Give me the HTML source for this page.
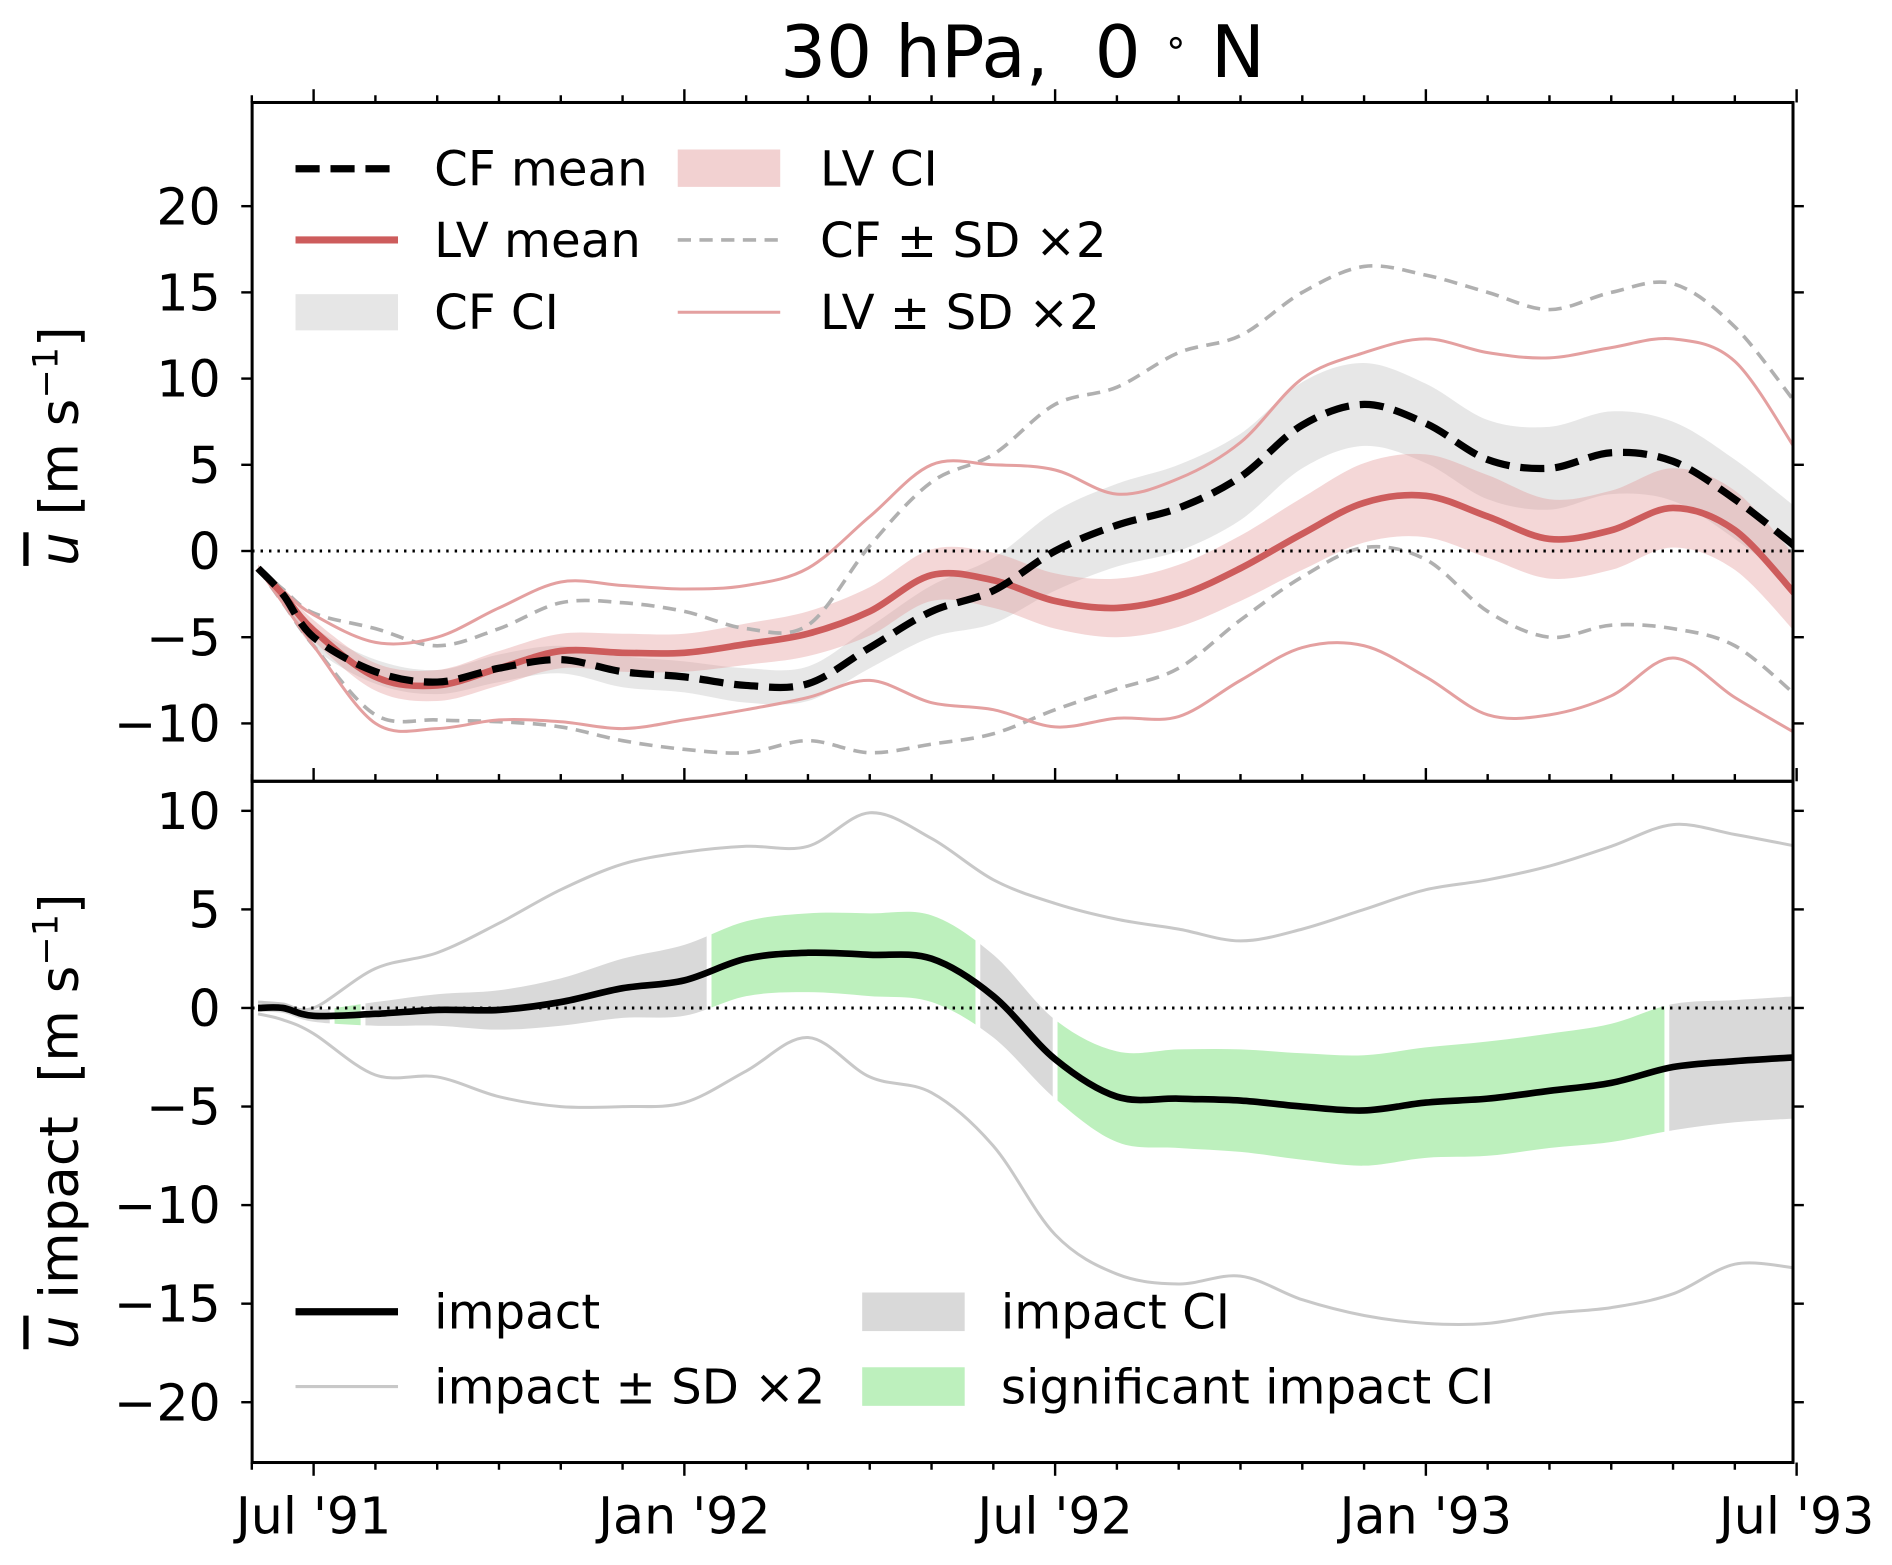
<!DOCTYPE html>
<html><head><meta charset="utf-8"><style>
html,body{margin:0;padding:0;background:#fff;}
svg{display:block;font-family:"DejaVu Sans","Liberation Sans",sans-serif;}
</style></head><body>
<svg id="chart" width="1892" height="1565" viewBox="0 0 1569 1298" xmlns="http://www.w3.org/2000/svg">
<defs id="defs"></defs>
<text x="848" y="64" font-size="60" text-anchor="middle" xml:space="preserve">30 hPa,  0 <tspan font-size="32" baseline-shift="super">∘</tspan> N</text>
<g id="gtop"></g>
<g id="gbot"></g>
<g id="axes"></g>
<text transform="translate(64,370) rotate(-90)" font-size="44" text-anchor="middle"><tspan font-style="italic" text-decoration="overline">u</tspan> [m s<tspan font-size="29" baseline-shift="super">−1</tspan>]</text>
<text transform="translate(64,930) rotate(-90)" font-size="44" text-anchor="middle" xml:space="preserve"><tspan font-style="italic" text-decoration="overline">u</tspan> impact  [m s<tspan font-size="29" baseline-shift="super">−1</tspan>]</text>
<g font-size="40">
<line x1="245" y1="140" x2="330" y2="140" stroke="#000" stroke-width="6" stroke-dasharray="20,9"/>
<text x="360" y="154">CF mean</text>
<line x1="245" y1="199" x2="330" y2="199" stroke="#cd5c5c" stroke-width="6"/>
<text x="360" y="213">LV mean</text>
<rect x="245" y="244" width="85" height="30" fill="#e6e6e6"/>
<text x="360" y="273">CF CI</text>
<rect x="562" y="124" width="85" height="31" fill="#f2d1d1"/>
<text x="680" y="154">LV CI</text>
<line x1="562" y1="199" x2="647" y2="199" stroke="#b0b0b0" stroke-width="3" stroke-dasharray="11,7"/>
<text x="680" y="213">CF ± SD ×2</text>
<line x1="562" y1="259" x2="647" y2="259" stroke="#e4a0a0" stroke-width="2.5"/>
<text x="680" y="273">LV ± SD ×2</text>
</g>
<g font-size="40">
<line x1="245" y1="1088" x2="330" y2="1088" stroke="#000" stroke-width="6"/>
<text x="360" y="1102">impact</text>
<line x1="245" y1="1150" x2="330" y2="1150" stroke="#c8c8c8" stroke-width="2.5"/>
<text x="360" y="1164">impact ± SD ×2</text>
<rect x="715" y="1072" width="85" height="32" fill="#d9d9d9"/>
<text x="830" y="1102">impact CI</text>
<rect x="715" y="1134" width="85" height="32" fill="#bdf0bd"/>
<text x="830" y="1164">significant impact CI</text>
</g>
</svg>
<script>
// months since Jul 1991
const months=[-0.9,-0.5,0,1,2,3,4,5,6,7,8,9,10,11,12,13,14,15,16,17,18,19,20,21,22,23,24];
const cfMean=[-1,-2.5,-5.0,-7.0,-7.6,-6.8,-6.3,-7.0,-7.3,-7.8,-7.7,-5.6,-3.5,-2.3,0.0,1.5,2.5,4.3,7.3,8.5,7.4,5.3,4.8,5.7,5.2,3.0,0.2];
const cfCiHalf=[0.2,0.4,0.6,0.7,0.7,0.8,0.8,0.9,0.9,1.0,1.0,1.2,1.5,1.9,2.3,2.4,2.5,2.5,2.5,2.4,2.3,2.3,2.4,2.4,2.3,2.3,2.3];
const lvMean=[-1,-2.5,-4.6,-7.3,-7.8,-6.8,-5.8,-5.9,-5.9,-5.4,-4.8,-3.5,-1.4,-1.7,-2.9,-3.3,-2.6,-1.0,1.0,2.8,3.2,2.0,0.7,1.2,2.5,1.2,-2.6];
const lvCiHalf=[0.2,0.4,0.6,0.8,0.9,1.0,1.0,1.1,1.1,1.2,1.3,1.4,1.5,1.6,1.6,1.7,1.8,1.9,2.1,2.3,2.4,2.4,2.3,2.3,2.3,2.3,2.2];
const cfSdUpper=[-1,-2.2,-3.6,-4.5,-5.5,-4.5,-3.0,-3.0,-3.5,-4.5,-4.3,0.3,4.0,5.6,8.5,9.5,11.5,12.5,15.0,16.5,16.0,15.0,14.0,15.0,15.5,13.0,8.5];
const cfSdLower=[-1,-3.0,-5.5,-9.5,-9.8,-9.9,-10.2,-11.0,-11.5,-11.7,-11.0,-11.7,-11.2,-10.6,-9.2,-8.0,-6.8,-4.0,-1.5,0.2,-0.5,-3.5,-5.0,-4.3,-4.5,-5.5,-8.4];
const lvSdUpper=[-1,-2.3,-3.7,-5.3,-5.0,-3.3,-1.8,-2.0,-2.2,-2.0,-1.0,2.0,5.0,5.0,4.7,3.3,4.2,6.3,10.0,11.5,12.3,11.5,11.2,11.8,12.3,11.0,5.8];
const lvSdLower=[-1,-3.0,-5.5,-10.0,-10.3,-9.8,-9.9,-10.3,-9.8,-9.2,-8.5,-7.5,-8.8,-9.2,-10.2,-9.7,-9.6,-7.5,-5.6,-5.5,-7.3,-9.5,-9.5,-8.4,-6.2,-8.5,-10.6];
const impact=[0,0,-0.4,-0.3,-0.1,-0.1,0.3,1.0,1.4,2.5,2.8,2.7,2.5,0.6,-2.6,-4.5,-4.6,-4.7,-5.0,-5.2,-4.8,-4.6,-4.2,-3.8,-3.0,-2.7,-2.5];
const impactCiHalf=[0.2,0.25,0.3,0.6,0.8,1.0,1.2,1.5,1.8,1.9,2.0,2.1,2.2,2.1,2.0,2.3,2.5,2.6,2.7,2.8,2.8,2.9,2.9,3.0,3.2,3.1,3.1];
const impactSdUpper=[0.3,0.2,0,2,2.8,4.3,6.0,7.3,7.9,8.2,8.2,9.9,8.6,6.5,5.3,4.5,4.0,3.4,4.0,5.0,6.0,6.5,7.2,8.2,9.3,8.8,8.2];
const impactSdLower=[-0.3,-0.6,-1.3,-3.4,-3.5,-4.5,-5.0,-5.0,-4.8,-3.2,-1.5,-3.5,-4.3,-7.0,-11.5,-13.5,-14.0,-13.6,-14.8,-15.6,-16.0,-16.0,-15.5,-15.2,-14.5,-13.0,-13.2];
const sigStart=[0.3,6.4,12.0];
const sigEnd=[0.8,10.75,21.9];
const topTicks=[20,15,10,5,0,-5,-10];
const botTicks=[10,5,0,-5,-10,-15,-20];
const xTickMonths=[0,6,12,18,24];
const xTickLabels=["Jul '91","Jan '92","Jul '92","Jan '93","Jul '93"];

const NS="http://www.w3.org/2000/svg";
const L=209,R=1487,T=85,M=648,B=1213;
const xs=t=>260+51.25*t;
const yT=v=>457-14.3*v;
const yB=v=>836-16.35*v;
function el(tag,attrs,parent){const e=document.createElementNS(NS,tag);for(const k in attrs)e.setAttribute(k,attrs[k]);parent.appendChild(e);return e;}
function smooth(pts,move){let d=(move?"M":"L")+pts[0][0].toFixed(1)+","+pts[0][1].toFixed(1);
 for(let i=0;i<pts.length-1;i++){const p0=pts[Math.max(0,i-1)],p1=pts[i],p2=pts[i+1],p3=pts[Math.min(pts.length-1,i+2)];
  const c1=[p1[0]+(p2[0]-p0[0])/6,p1[1]+(p2[1]-p0[1])/6],c2=[p2[0]-(p3[0]-p1[0])/6,p2[1]-(p3[1]-p1[1])/6];
  d+="C"+c1[0].toFixed(1)+","+c1[1].toFixed(1)+" "+c2[0].toFixed(1)+","+c2[1].toFixed(1)+" "+p2[0].toFixed(1)+","+p2[1].toFixed(1);}
 return d;}
function linePath(vals,ys){return smooth(months.map((t,i)=>[xs(t),ys(vals[i])]),true);}
function bandPath(lo,hi,ys){const up=months.map((t,i)=>[xs(t),ys(hi[i])]);const dn=months.map((t,i)=>[xs(t),ys(lo[i])]).reverse();return smooth(up,true)+smooth(dn,false)+"Z";}
const gTop=document.getElementById('gtop'),gBot=document.getElementById('gbot'),gAxes=document.getElementById('axes'),gDefs=document.getElementById('defs');
let cp=el('clipPath',{id:'clipTop'},gDefs);el('rect',{x:L,y:T,width:R-L,height:M-T},cp);
cp=el('clipPath',{id:'clipBot'},gDefs);el('rect',{x:L,y:M,width:R-L,height:B-M},cp);
gTop.setAttribute('clip-path','url(#clipTop)');gBot.setAttribute('clip-path','url(#clipBot)');

let e;
e=el('path',{d:bandPath(cfMean.map((v,i)=>v-cfCiHalf[i]),cfMean.map((v,i)=>v+cfCiHalf[i]),yT),fill:'#d3d3d3','fill-opacity':0.55},gTop);


e=el('path',{d:bandPath(lvMean.map((v,i)=>v-lvCiHalf[i]),lvMean.map((v,i)=>v+lvCiHalf[i]),yT),fill:'#e39a9a','fill-opacity':0.4},gTop);


[[cfSdUpper,'cf-sd-upper'],[cfSdLower,'cf-sd-lower']].forEach(([a,n])=>{e=el('path',{d:linePath(a,yT),fill:'none',stroke:'#b0b0b0','stroke-width':3,'stroke-dasharray':'11,7'},gTop);

});
[[lvSdUpper,'lv-sd-upper'],[lvSdLower,'lv-sd-lower']].forEach(([a,n])=>{e=el('path',{d:linePath(a,yT),fill:'none',stroke:'#e4a0a0','stroke-width':2.5},gTop);

});
e=el('line',{x1:L,x2:R,y1:yT(0),y2:yT(0),stroke:'#000','stroke-width':2.5,'stroke-dasharray':'2,5'},gTop);


e=el('path',{d:linePath(lvMean,yT),fill:'none',stroke:'#cd5c5c','stroke-width':5.5},gTop);


e=el('path',{d:linePath(cfMean,yT),fill:'none',stroke:'#000','stroke-width':6,'stroke-dasharray':'20,9'},gTop);



const ciPath=bandPath(impact.map((v,i)=>v-impactCiHalf[i]),impact.map((v,i)=>v+impactCiHalf[i]),yB);
const bounds=[months[0]];sigStart.forEach((s,i)=>{bounds.push(s,sigEnd[i]);});bounds.push(months[months.length-1]);
for(let i=0;i<bounds.length-1;i++){const sig=i%2===1;const a=bounds[i],b=bounds[i+1];
 const x0=xs(a)+(i>0?2:-4),x1=xs(b)-(i<bounds.length-2?2:-4);
 const c=el('clipPath',{id:'seg'+i},gDefs);el('rect',{x:x0,y:M,width:Math.max(0,x1-x0),height:B-M},c);
 e=el('path',{d:ciPath,fill:sig?'#bdf0bd':'#d9d9d9','clip-path':'url(#seg'+i+')'},gBot);
 
 }
[[impactSdUpper,'impact-sd-upper'],[impactSdLower,'impact-sd-lower']].forEach(([a,n])=>{e=el('path',{d:linePath(a,yB),fill:'none',stroke:'#c8c8c8','stroke-width':2.5},gBot);

});
e=el('line',{x1:L,x2:R,y1:yB(0),y2:yB(0),stroke:'#000','stroke-width':2.5,'stroke-dasharray':'2,5'},gBot);


e=el('path',{d:linePath(impact,yB),fill:'none',stroke:'#000','stroke-width':5.5},gBot);



[[T,M,'top-frame'],[M,B,'bottom-frame']].forEach(([y1,y2,n])=>{e=el('rect',{x:L,y:y1,width:R-L,height:y2-y1,fill:'none',stroke:'#000','stroke-width':2.5},gAxes);

});
topTicks.forEach(v=>{const y=yT(v);el('line',{x1:L-9,x2:L,y1:y,y2:y,stroke:'#000','stroke-width':2},gAxes);el('line',{x1:R,x2:R+9,y1:y,y2:y,stroke:'#000','stroke-width':2},gAxes);
 e=el('text',{x:183,y:y+15,'font-size':42,'text-anchor':'end'},gAxes);e.textContent=(v<0?'−':'')+Math.abs(v);
 
 });
botTicks.forEach(v=>{const y=yB(v);el('line',{x1:L-9,x2:L,y1:y,y2:y,stroke:'#000','stroke-width':2},gAxes);el('line',{x1:R,x2:R+9,y1:y,y2:y,stroke:'#000','stroke-width':2},gAxes);
 e=el('text',{x:183,y:y+15,'font-size':42,'text-anchor':'end'},gAxes);e.textContent=(v<0?'−':'')+Math.abs(v);
 
 });
for(let m=-1;m<=24;m++){const x=xs(m);const major=xTickMonths.includes(m);const len=major?11:6;
 el('line',{x1:x,x2:x,y1:T,y2:T-len,stroke:'#000','stroke-width':2},gAxes);
 el('line',{x1:x,x2:x,y1:M,y2:M-len,stroke:'#000','stroke-width':2},gAxes);
 el('line',{x1:x,x2:x,y1:B,y2:B+len,stroke:'#000','stroke-width':2},gAxes);}
xTickMonths.forEach((m,i)=>{e=el('text',{x:xs(m),y:1272,'font-size':42,'text-anchor':'middle'},gAxes);e.textContent=xTickLabels[i];
 
 });
</script>
</body></html>
